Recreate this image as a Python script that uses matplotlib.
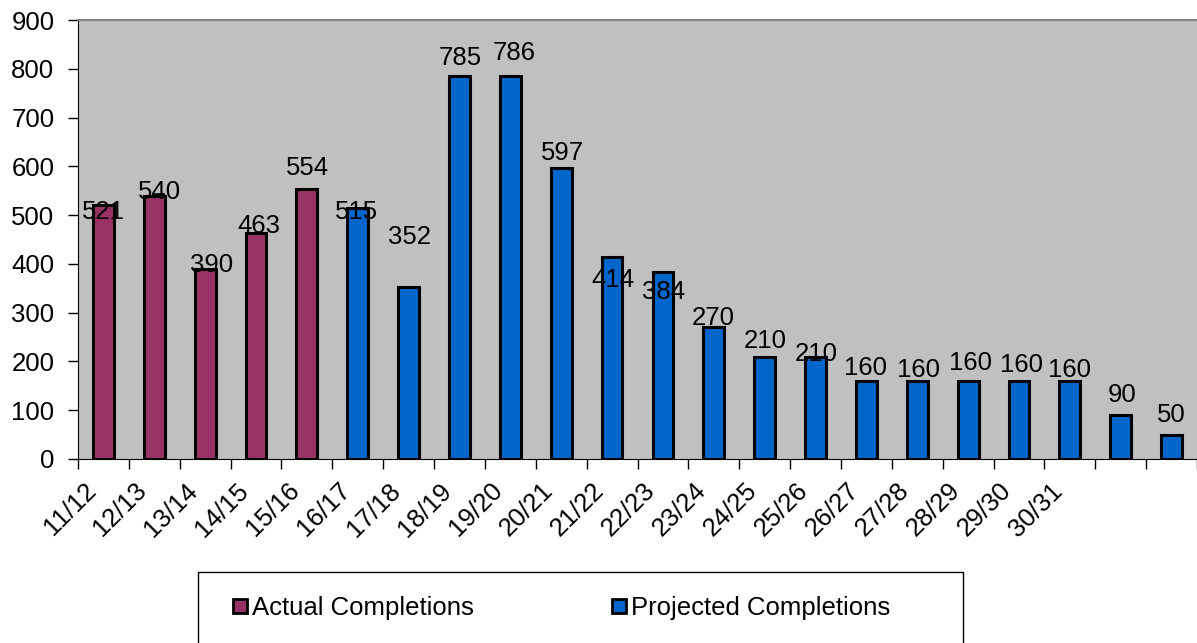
import matplotlib
matplotlib.use("Agg")
import matplotlib.pyplot as plt
from matplotlib.patches import Rectangle
from matplotlib.lines import Line2D
from matplotlib.transforms import ScaledTranslation
import numpy as np

# data
years = ["11/12", "12/13", "13/14", "14/15", "15/16", "16/17", "17/18", "18/19",
         "19/20", "20/21", "21/22", "22/23", "23/24", "24/25", "25/26", "26/27",
         "27/28", "28/29", "29/30", "30/31", "", ""]
actual = [521, 540, 390, 463, 554]
projected = [515, 352, 785, 786, 597, 414, 384, 270, 210, 210, 160, 160,
             160, 160, 160, 90, 50]

# label nudges (pixels) to mimic the original's placement
label_dx = [0, 5, 6, 3, 1, -1, 1, 1, 4, 1, 1, 1, -1, 1, 1, -1, 1, 2, 3, 0, 1, 0]
label_dy = [-7, 4, 4, 7, 21, -4, 50, 18, 23, 15, -23, -20, 9, 16, 3, 13, 11,
            18, 16, 11, 20, 20]

ACTUAL_C = "#993366"
PROJ_C = "#0066CC"
FS = 18.5

plt.rcParams["font.family"] = ["Liberation Sans", "DejaVu Sans"]
plt.rcParams["font.size"] = FS

fig = plt.figure(figsize=(11.97, 6.43), dpi=100)
ax = fig.add_axes([78 / 1197, 1 - 459 / 643, 1 - 78 / 1197, (459 - 20) / 643])
ax.set_facecolor("#C0C0C0")

values = actual + projected
colors = [ACTUAL_C] * len(actual) + [PROJ_C] * len(projected)
x = np.arange(len(values))
ax.bar(x, values, width=0.41, color=colors, edgecolor="black", linewidth=2.2, zorder=3)

for i, v in enumerate(values):
    ax.annotate(str(v), (x[i], v), xytext=(label_dx[i], label_dy[i]),
                textcoords="offset pixels", ha="center", va="center", fontsize=FS)

ax.set_xlim(-0.5, len(values) - 0.5)
ax.set_ylim(0, 900)
ax.set_yticks(np.arange(0, 901, 100))
ax.tick_params(axis="y", length=7, width=1, direction="out", pad=10)

# category labels at centres, tick marks at boundaries
ax.set_xticks(x)
ax.set_xticklabels(years, rotation=45, ha="right", rotation_mode="anchor")
ax.tick_params(axis="x", length=0, pad=14)
shift = ScaledTranslation(-0.2, 0, fig.dpi_scale_trans)
for lab in ax.get_xticklabels():
    lab.set_transform(lab.get_transform() + shift)
ax.set_xticks(np.arange(-0.5, len(values)), minor=True)
ax.tick_params(axis="x", which="minor", length=7, width=1, direction="out")

ax.spines["left"].set_color("black")
ax.spines["bottom"].set_color("black")
ax.spines["top"].set_color("#808080")
ax.spines["top"].set_linewidth(1.5)
ax.spines["right"].set_visible(False)

# legend box that runs off the bottom edge
fig.patches.append(Rectangle((198 / 1197, -0.05), (963 - 198) / 1197, 0.05 + (643 - 572) / 643,
                             transform=fig.transFigure, facecolor="white",
                             edgecolor="black", linewidth=1))
handles = [Line2D([], [], marker="s", linestyle="none", markersize=10,
                  markerfacecolor=c, markeredgecolor="black", markeredgewidth=2)
           for c in (ACTUAL_C, PROJ_C)]
fig.legend(handles, ["Actual Completions", "Projected Completions"], ncol=2,
           loc="center", bbox_to_anchor=(561 / 1197, 1 - 608 / 643), frameon=False,
           handlelength=0.6, handletextpad=0.17, columnspacing=5.35, fontsize=FS)

fig.savefig("out.png", dpi=100)
